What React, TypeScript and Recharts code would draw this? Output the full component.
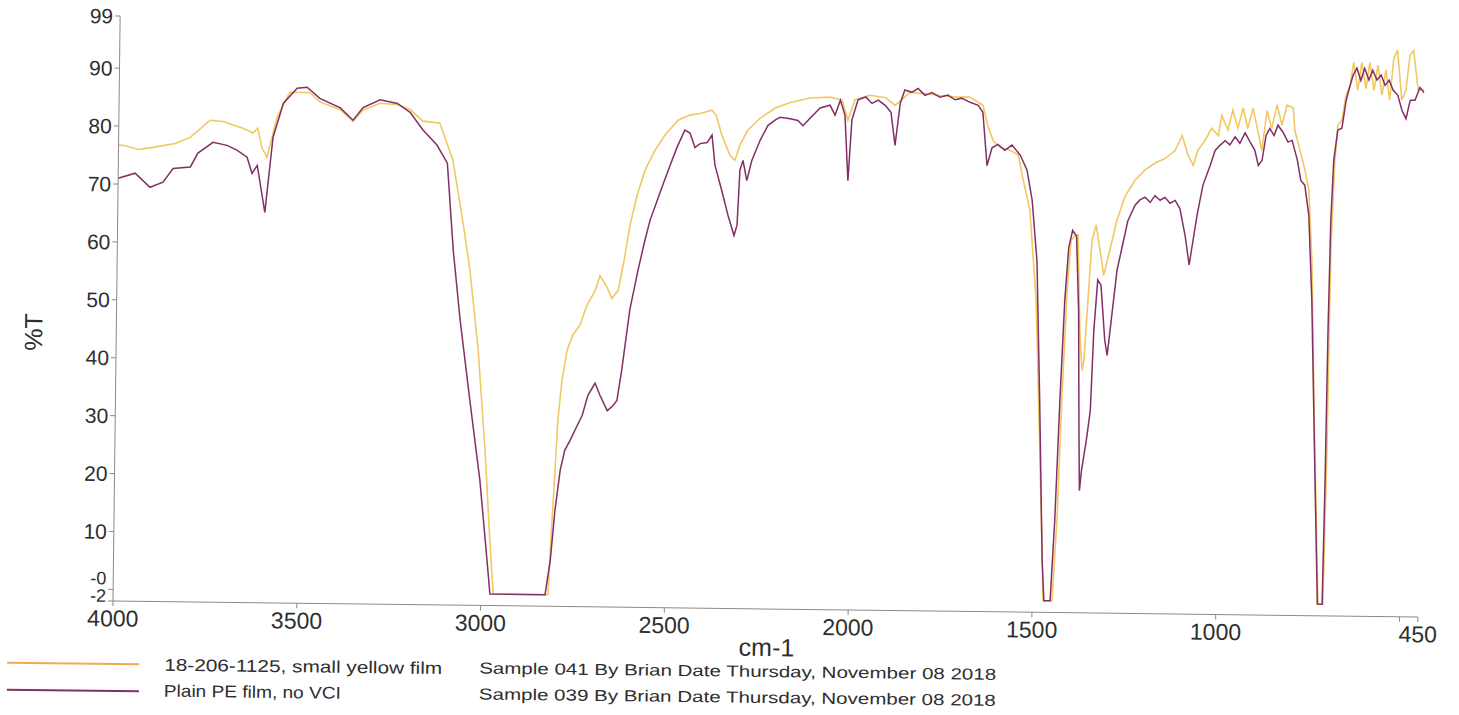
import { LineChart, Line, XAxis, YAxis } from "recharts";

// 18-206-1125, small yellow film
const yellowWn = [
  4000, 3987, 3946, 3906, 3846, 3805, 3752, 3717, 3662, 3635, 3622, 3610, 3596, 3570, 3536, 3481, 3454, 3398,
  3363, 3336, 3290, 3243, 3208, 3173, 3127, 3090, 3060, 3040, 3015, 2993, 2977, 2966, 2817, 2811, 2802, 2796,
  2786, 2773, 2758, 2739, 2721, 2699, 2686, 2669, 2653, 2636, 2621, 2606, 2588, 2567, 2541, 2514, 2479, 2447,
  2419, 2387, 2376, 2359, 2337, 2323, 2310, 2289, 2256, 2215, 2174, 2121, 2067, 2033, 2017, 1998, 1958, 1915,
  1889, 1849, 1808, 1767, 1726, 1686, 1650, 1636, 1621, 1602, 1575, 1552, 1541, 1519, 1499, 1484, 1470, 1446,
  1435, 1426, 1415, 1406, 1395, 1387, 1379, 1372, 1367, 1358, 1349, 1338, 1327, 1316, 1300, 1282, 1260, 1234,
  1207, 1180, 1153, 1126, 1107, 1091, 1076, 1064, 1045, 1027, 1009, 1000, 983, 970, 956, 942, 929, 915, 902,
  890, 877, 864, 850, 836, 823, 806, 801, 786, 772, 761, 750, 736, 722, 709, 703, 699, 691, 684, 673, 663, 652,
  643, 631, 621, 609, 599, 587, 577, 565, 555, 544, 534, 524, 511, 500, 490, 480, 467, 452,
];
const yellowT = [
  76.7, 76.7, 76.0, 76.4, 77.1, 78.2, 81.2, 81.0, 79.9, 79.1, 79.9, 76.6, 74.9, 81.8, 86.2, 86.2, 84.6, 83.3,
  81.3, 83.3, 84.5, 84.3, 83.5, 81.5, 81.2, 74.8, 63.9, 55.9, 42.1, 24.8, 9.3, 0, 0, 9.4, 21.5, 30.1,
  37.0, 42.3, 44.9, 46.6, 50.0, 52.6, 55.2, 53.5, 51.3, 52.7, 57.9, 64.0, 69.1, 73.5, 76.9, 79.6, 82.2, 83.1,
  83.4, 84.0, 83.2, 79.7, 76.3, 75.4, 78.0, 80.6, 82.7, 84.5, 85.5, 86.3, 86.5, 86.0, 82.5, 86.1, 86.9, 86.5,
  85.2, 87.5, 87.3, 87.0, 86.8, 86.8, 85.4, 81.9, 79.3, 78.2, 77.7, 76.9, 73.4, 67.4, 51.8, 26.0, 0, 0,
  13.9, 34.6, 53.6, 62.3, 63.1, 63.3, 46.7, 39.8, 41.6, 51.9, 62.3, 65.0, 60.7, 56.3, 60.7, 65.8, 70.1, 72.8,
  74.6, 75.8, 76.6, 78.0, 80.6, 77.3, 75.5, 78.1, 79.8, 81.9, 80.7, 84.2, 81.7, 85.1, 82.0, 85.5, 82.0, 85.5, 81.7,
  78.2, 85.1, 82.0, 86.1, 82.6, 86.1, 85.6, 81.8, 78.3, 74.9, 71.6, 59.3, 26.5, 0, 0, 26.5, 61.2, 76.7, 82.7, 83.6, 87.9, 89.6,
  93.6, 88.8, 93.6, 89.1, 93.6, 88.8, 93.2, 88.0, 92.4, 87.2, 94.3, 95.8, 87.2, 88.9, 95.0, 95.8, 89.0, 89.0,
];

// Plain PE film, no VCI
const purpleWn = [
  4000, 3954, 3913, 3878, 3851, 3804, 3784, 3743, 3705, 3678, 3650, 3636, 3622, 3600, 3580, 3553, 3516, 3489,
  3454, 3398, 3363, 3336, 3290, 3243, 3208, 3173, 3134, 3105, 3086, 3065, 3036, 3006, 2984, 2975, 2825, 2812,
  2801, 2788, 2776, 2762, 2749, 2730, 2715, 2696, 2682, 2662, 2646, 2636, 2624, 2604, 2583, 2565, 2552, 2533,
  2518, 2499, 2481, 2460, 2446, 2432, 2418, 2399, 2386, 2377, 2358, 2340, 2323, 2315, 2309, 2301, 2290, 2277,
  2255, 2234, 2215, 2202, 2174, 2153, 2139, 2120, 2093, 2066, 2052, 2038, 2025, 2015, 2006, 1990, 1969, 1952,
  1935, 1916, 1900, 1888, 1875, 1863, 1844, 1827, 1808, 1789, 1767, 1746, 1726, 1708, 1685, 1663, 1650, 1637,
  1624, 1608, 1589, 1570, 1547, 1528, 1513, 1498, 1486, 1474, 1468, 1451, 1441, 1431, 1421, 1412, 1402, 1391,
  1383, 1378, 1375, 1370, 1358, 1348, 1341, 1332, 1323, 1311, 1304, 1294, 1280, 1266, 1252, 1233, 1220, 1206,
  1192, 1179, 1165, 1152, 1138, 1124, 1111, 1096, 1084, 1074, 1064, 1049, 1030, 1017, 1004, 990, 977, 963, 950,
  936, 922, 909, 899, 889, 879, 869, 857, 847, 833, 819, 808, 793, 783, 772, 760, 749, 736, 724, 711, 707, 704,
  700, 694, 684, 673, 662, 652, 644, 634, 623, 613, 601, 591, 579, 568, 557, 546, 535, 522, 510, 499, 488, 475,
  462, 450,
];
const purpleT = [
  71.0, 71.9, 69.5, 70.4, 72.8, 73.1, 75.5, 77.4, 76.9, 76.1, 74.9, 72.1, 73.5, 65.4, 78.4, 84.3, 86.9, 87.1,
  85.2, 83.6, 81.5, 83.7, 85.1, 84.5, 83.0, 80.0, 77.4, 74.3, 59.2, 47.2, 33.4, 19.6, 5.8, 0, 0, 5.9,
  14.5, 21.5, 25.0, 26.7, 28.5, 31.0, 34.5, 36.6, 34.5, 31.9, 32.8, 33.7, 38.9, 49.3, 56.2, 61.4, 64.8, 68.3,
  71.0, 74.4, 77.5, 80.5, 80.0, 77.5, 78.2, 78.4, 79.7, 74.5, 70.2, 65.9, 62.4, 64.2, 73.7, 75.4, 71.9, 75.4,
  78.9, 81.5, 82.4, 82.9, 82.7, 82.4, 81.5, 82.8, 84.6, 85.1, 83.4, 86.0, 83.4, 72.1, 82.6, 86.1, 86.6, 85.5,
  86.1, 85.2, 84.0, 78.3, 85.6, 87.9, 87.5, 88.2, 87.0, 87.5, 86.7, 87.1, 86.3, 86.6, 85.9, 85.4, 84.2, 75.0,
  78.1, 78.7, 77.7, 78.6, 76.9, 74.3, 69.1, 58.7, 34.6, 7.0, 0, 0, 13.9, 34.6, 51.9, 61.0, 64.0, 63.0,
  50.0, 29.0, 19.1, 22.6, 27.7, 32.9, 46.8, 55.5, 54.6, 45.1, 42.5, 48.6, 57.2, 61.5, 65.8, 68.5, 69.4, 69.9,
  69.0, 70.2, 69.4, 69.9, 68.9, 69.4, 68.0, 63.4, 58.3, 62.6, 66.9, 72.1, 75.5, 78.1, 79.0, 79.8, 79.1, 80.5, 79.4,
  81.2, 79.6, 78.2, 75.6, 76.5, 80.8, 82.0, 80.8, 82.6, 81.4, 79.7, 80.0, 76.6, 73.1, 72.3, 67.1, 52.4, 24.8, 0, 0, 21.4, 47.3,
  66.3, 76.7, 81.9, 82.2, 87.1, 89.6, 91.4, 92.6, 90.5, 92.6, 90.6, 92.3, 90.6, 91.5, 89.7, 90.6, 88.9, 88.0, 85.4, 84.0, 87.2, 87.2,
  89.4, 88.5,
];

const xTicks = [4000, 3500, 3000, 2500, 2000, 1500, 1000, 500, 450];
const yTicks = [-2, 0, 10, 20, 30, 40, 50, 60, 70, 80, 90, 99];

const legendNames = ["18-206-1125, small yellow film", "Plain PE film, no VCI"];
const legendNotes = [
  "Sample 041 By Brian Date Thursday, November 08 2018",
  "Sample 039 By Brian Date Thursday, November 08 2018",
];

const FONT = "Arial, 'Liberation Sans', sans-serif";
const YELLOW = "#f1c862";
const YELLOW_KEY = "#f5a84e";
const PURPLE = "#822f64";
const AXIS = "#8a8a8a";
const TEXT = "#2e2e2e";

const toRows = (wn: number[], t: number[]) => wn.map((v, i) => ({ wn: v, t: t[i] }));

// y tick: the "-0" and "-2" labels sit squeezed together at the bottom
const YTick = (props: any) => {
  const { x, y, payload } = props;
  const v = payload.value;
  const low = v === 0 || v === -2;
  const shift = v === 0 ? -11 : v === -2 ? -5 : 0;
  return (
    <text
      x={x}
      y={y + shift}
      textAnchor="end"
      dominantBaseline="central"
      fill={TEXT}
      fontSize={low ? 18 : 21}
      fontFamily={FONT}
    >
      {v === 0 ? "-0" : String(v)}
    </text>
  );
};

export default function App() {
  const yellow = toRows(yellowWn, yellowT);
  const purple = toRows(purpleWn, purpleT);

  return (
    <div
      style={{
        position: "absolute",
        left: 0,
        top: 0,
        width: 1459,
        height: 715,
        background: "#fff",
        fontFamily: FONT,
        transform: "rotate(0.7deg)",
        transformOrigin: "113px 600px",
      }}
    >
      <LineChart width={1459} height={715} margin={{ top: 16, right: 41, bottom: 84, left: 0 }}>
        <XAxis
          type="number"
          dataKey="wn"
          domain={[450, 4000]}
          reversed
          allowDataOverflow
          ticks={xTicks}
          interval={0}
          tickFormatter={(v: number) => (v === 500 ? "" : String(v))}
          height={30}
          stroke={AXIS}
          tickSize={5}
          tickMargin={4}
          tick={{ fill: TEXT, fontSize: 23, fontFamily: FONT }}
        />
        <YAxis
          type="number"
          domain={[-2, 99]}
          ticks={yTicks}
          interval={0}
          width={113}
          stroke={AXIS}
          tickSize={5}
          tickMargin={2}
          tick={YTick}
        />
        <Line
          data={yellow}
          dataKey="t"
          type="linear"
          stroke={YELLOW}
          strokeWidth={1.6}
          dot={false}
          isAnimationActive={false}
        />
        <Line
          data={purple}
          dataKey="t"
          type="linear"
          stroke={PURPLE}
          strokeWidth={1.5}
          dot={false}
          isAnimationActive={false}
        />
      </LineChart>

      {/* axis titles and legend block */}
      <svg width={1459} height={715} style={{ position: "absolute", left: 0, top: 0, pointerEvents: "none" }}>
        <text
          x={30}
          y={333}
          textAnchor="middle"
          dominantBaseline="central"
          transform="rotate(-90 30 333)"
          fontSize={25}
          fill={TEXT}
          fontFamily={FONT}
        >
          %T
        </text>
        <text x={767} y={639} textAnchor="middle" dominantBaseline="central" fontSize={25} fill={TEXT} fontFamily={FONT}>
          cm-1
        </text>
        <line x1={8} x2={140} y1={664} y2={664} stroke={YELLOW_KEY} strokeWidth={2} />
        <line x1={8} x2={140} y1={691} y2={691} stroke={PURPLE} strokeWidth={2} />
        <text x={165} y={670} fontSize={17} fill={TEXT} fontFamily={FONT} textLength={278} lengthAdjust="spacingAndGlyphs">
          {legendNames[0]}
        </text>
        <text x={165} y={696} fontSize={17} fill={TEXT} fontFamily={FONT} textLength={177} lengthAdjust="spacingAndGlyphs">
          {legendNames[1]}
        </text>
        <text x={480} y={669} fontSize={16} fill={TEXT} fontFamily={FONT} textLength={517} lengthAdjust="spacingAndGlyphs">
          {legendNotes[0]}
        </text>
        <text x={480} y={695} fontSize={16} fill={TEXT} fontFamily={FONT} textLength={517} lengthAdjust="spacingAndGlyphs">
          {legendNotes[1]}
        </text>
      </svg>
    </div>
  );
}
